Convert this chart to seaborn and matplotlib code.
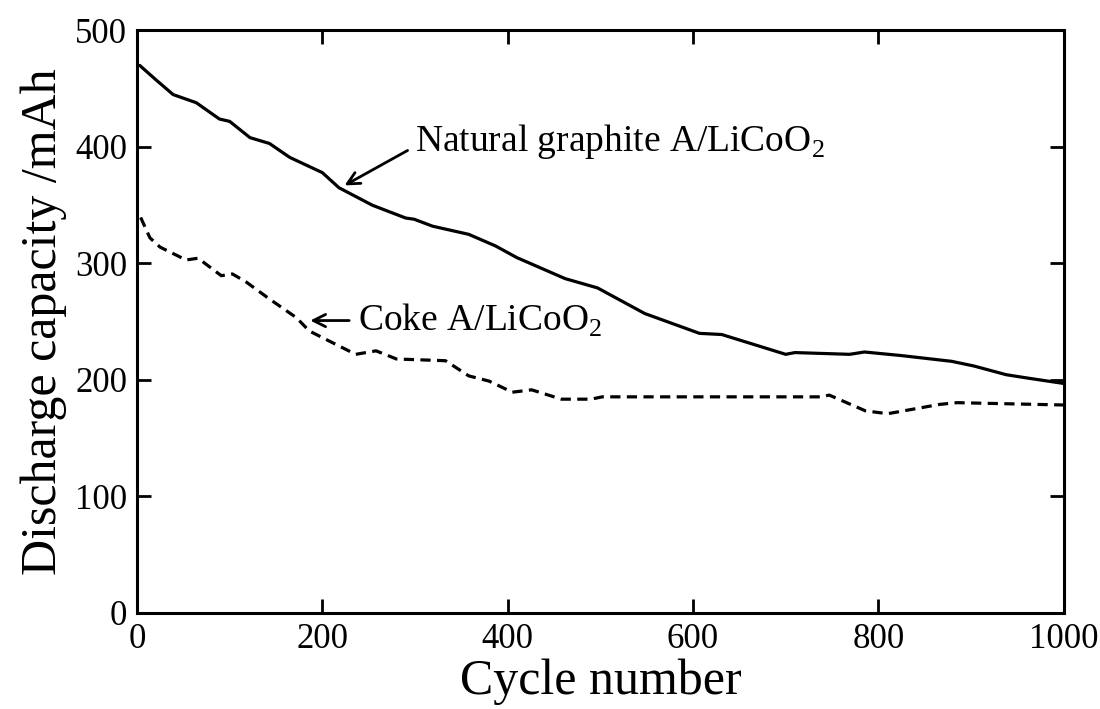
import numpy as np
import pandas as pd
import matplotlib
matplotlib.use("Agg")
import matplotlib.pyplot as plt
import seaborn as sns

# Natural graphite A / LiCoO2 (solid)
graphite_cycles = [3, 20, 39, 64, 89, 100, 122, 143, 165, 200, 218, 254, 290, 299, 319,
                   358, 387, 410, 462, 497, 548, 607, 631, 700, 710, 769, 785, 824, 879,
                   903, 938, 962, 1000]
graphite_capacity = [470, 458, 445, 438, 424, 422, 408, 403, 391, 378, 365, 350, 339, 338,
                     332, 325, 315, 305, 287, 279, 257, 240, 239, 222, 223.5, 222, 224,
                     221, 216, 212, 204.5, 201.5, 197]

# Coke A / LiCoO2 (dashed)
coke_cycles = [4, 14, 25, 53, 66, 91, 103, 118, 143, 172, 186, 236, 258, 280, 333, 358,
               380, 405, 426, 458, 490, 502, 739, 747, 786, 810, 866, 885, 1000]
coke_capacity = [339.5, 322, 314, 303, 304.5, 289.5, 291, 284, 269.5, 253.5, 242, 222,
                 225, 218, 216.5, 203.5, 199, 189.5, 191.5, 183.5, 183.5, 185.5, 185.5,
                 187, 173.5, 171, 179, 180.5, 178.5]

x_ticks = [0, 200, 400, 600, 800, 1000]
y_ticks = [0, 100, 200, 300, 400, 500]

df = pd.concat([
    pd.DataFrame({"cycle": graphite_cycles, "cap": graphite_capacity, "cell": "graphite"}),
    pd.DataFrame({"cycle": coke_cycles, "cap": coke_capacity, "cell": "coke"}),
])

sns.set_theme(style="ticks")
plt.rcParams["font.family"] = ["Liberation Serif", "DejaVu Serif"]
plt.rcParams["mathtext.fontset"] = "custom"
plt.rcParams["mathtext.rm"] = "Liberation Serif"
for k in ["text.color", "axes.labelcolor", "xtick.color", "ytick.color", "axes.edgecolor"]:
    plt.rcParams[k] = "black"

fig = plt.figure(figsize=(11, 7.09), dpi=100)
ax = fig.add_axes([0.1245, 0.1355, 0.8425, 0.8215])

sns.lineplot(data=df, x="cycle", y="cap", hue="cell", style="cell",
             palette={"graphite": "black", "coke": "black"},
             dashes={"graphite": "", "coke": (3.2, 2.0)},
             linewidth=2.3, legend=False, ax=ax, estimator=None, sort=False)

ax.set_xlim(0, 1000)
ax.set_ylim(0, 500)
ax.set_xticks(x_ticks)
ax.set_yticks(y_ticks)
ax.tick_params(direction="in", length=10, width=2, top=True, right=True,
               labelsize=25, colors="black", pad=7)
for s in ax.spines.values():
    s.set_linewidth(2.2)
    s.set_color("black")

ax.set_xlabel("Cycle number", fontsize=36, labelpad=2)
ax.set_ylabel("Discharge capacity /mAh", fontsize=36, labelpad=6)

arrow_kw = dict(arrowstyle="->", color="black", lw=2, mutation_scale=22,
                shrinkA=0, shrinkB=0)
ax.annotate("", xy=(224, 367), xytext=(292, 397), arrowprops=arrow_kw)
ax.text(300, 405, r"Natural graphite A/LiCoO$_2$", fontsize=27, va="center", ha="left")
ax.annotate("", xy=(187, 251), xytext=(229, 251), arrowprops=arrow_kw)
ax.text(238, 251, r"Coke A/LiCoO$_2$", fontsize=27, va="center", ha="left")

fig.savefig("out.png", dpi=100, facecolor="white")
